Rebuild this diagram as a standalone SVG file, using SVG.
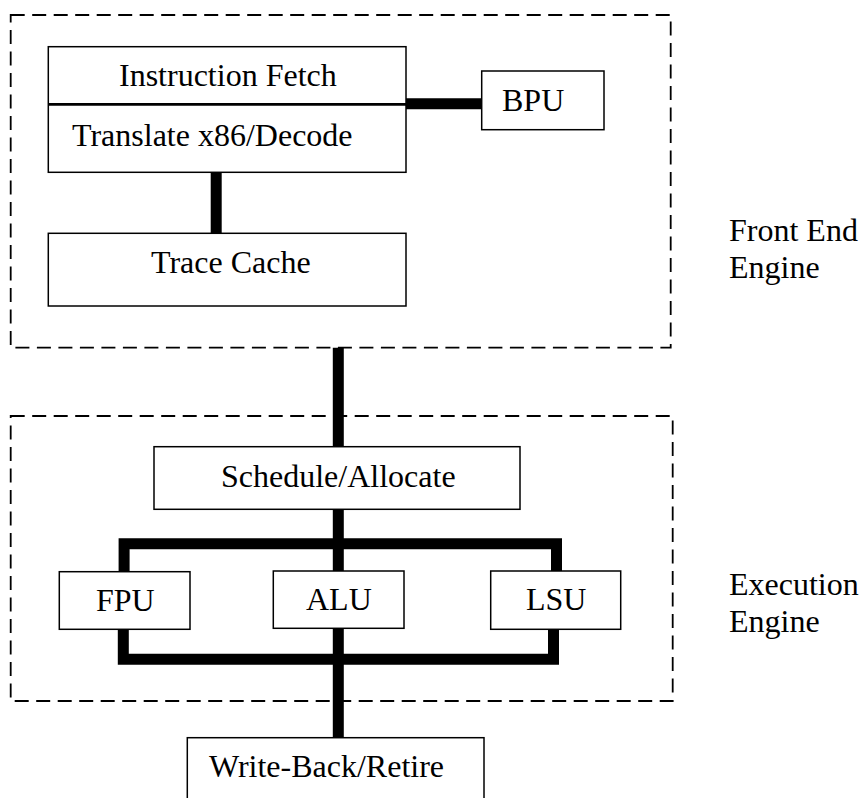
<svg xmlns="http://www.w3.org/2000/svg" width="861" height="798" viewBox="0 0 861 798">
  <style>
    text { font-family: "Liberation Serif", "Times New Roman", serif; font-size: 32px; fill: #000; }
    .box { fill: #fff; stroke: #000; stroke-width: 1.5; }
    .region { fill: none; stroke: #000; stroke-width: 1.8; stroke-dasharray: 14 7.5; }
    .bus { fill: none; stroke: #000; stroke-width: 11; stroke-linecap: butt; stroke-linejoin: miter; }
  </style>
  <rect width="861" height="798" fill="#fff"/>

  <!-- engine regions -->
  <g id="front-end-region">
    <rect class="region" x="10.7" y="15" width="660" height="332.7"/>
    <text x="729" y="241">Front End</text>
    <text x="729" y="278">Engine</text>
  </g>
  <g id="execution-region">
    <rect class="region" x="10.7" y="416" width="662" height="285"/>
    <text x="729" y="595">Execution</text>
    <text x="729" y="632">Engine</text>
  </g>

  <!-- connectors -->
  <g id="connectors">
    <path class="bus" d="M406,103.8 H482"/>
    <path class="bus" d="M216.2,172.3 V233.3"/>
    <path class="bus" d="M338.3,347.7 V446.7"/>
    <path class="bus" d="M338.3,509.3 V571"/>
    <path class="bus" d="M124.1,571.7 V543.8 H556.5 V571"/>
    <path class="bus" d="M123.3,629.3 V659.2 H553.5 V629.3"/>
    <path class="bus" d="M338.3,628.3 V737.7"/>
  </g>

  <!-- front end units -->
  <g id="fetch-decode">
    <rect class="box" x="48.3" y="46.7" width="357.7" height="125.6"/>
    <line x1="48.3" y1="104.3" x2="406" y2="104.3" stroke="#000" stroke-width="2.7"/>
    <text x="119" y="86">Instruction Fetch</text>
    <text x="72" y="146">Translate x86/Decode</text>
  </g>
  <g id="bpu">
    <rect class="box" x="481.7" y="71" width="122.3" height="58.7"/>
    <text x="502" y="111">BPU</text>
  </g>
  <g id="trace-cache">
    <rect class="box" x="48.3" y="233.3" width="357.7" height="72.7"/>
    <text x="151" y="273">Trace Cache</text>
  </g>

  <!-- execution units -->
  <g id="schedule-allocate">
    <rect class="box" x="154" y="446.7" width="366" height="62.6"/>
    <text x="221" y="487">Schedule/Allocate</text>
  </g>
  <g id="fpu">
    <rect class="box" x="59.3" y="571.7" width="130.7" height="57.6"/>
    <text x="96" y="611">FPU</text>
  </g>
  <g id="alu">
    <rect class="box" x="273.3" y="571" width="130.7" height="57.3"/>
    <text x="306" y="610">ALU</text>
  </g>
  <g id="lsu">
    <rect class="box" x="490.7" y="571" width="130" height="58.3"/>
    <text x="526" y="610">LSU</text>
  </g>

  <!-- retirement -->
  <g id="write-back-retire">
    <rect class="box" x="187.3" y="737.7" width="296.7" height="80"/>
    <text x="209" y="777">Write-Back/Retire</text>
  </g>
</svg>
